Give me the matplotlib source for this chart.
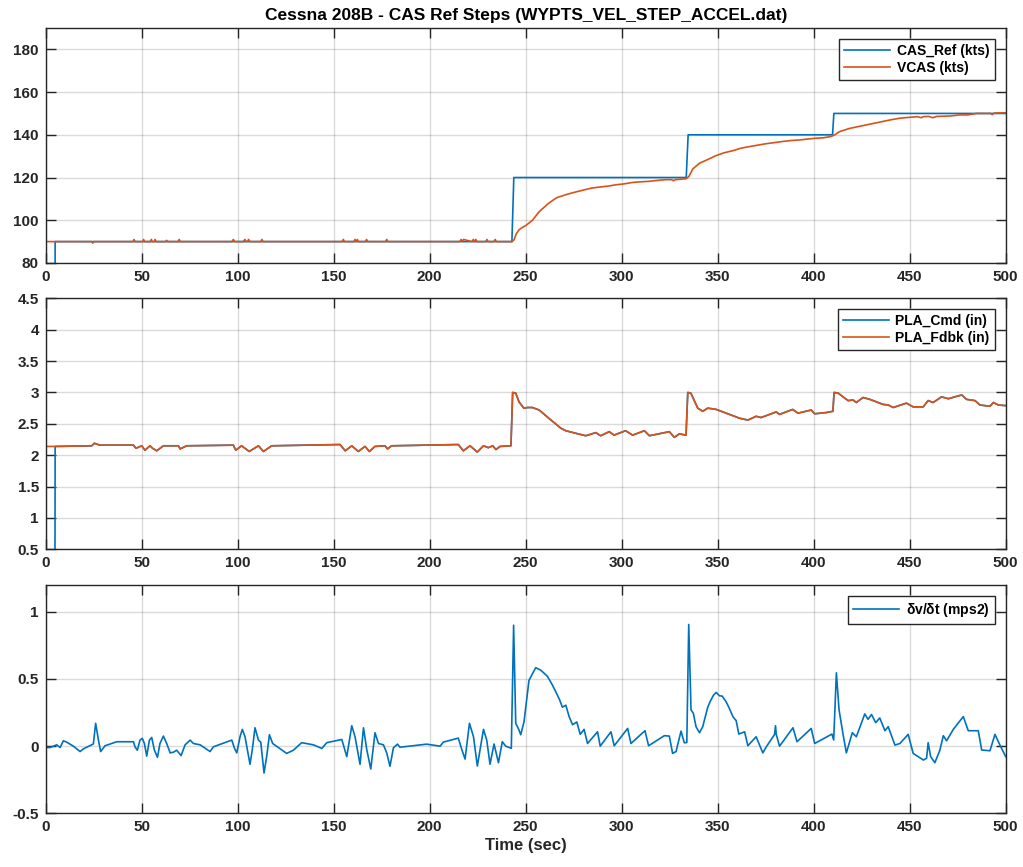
import matplotlib
matplotlib.use("Agg")
import matplotlib.pyplot as plt

# --- CAS panel ---
cas_ref_t = [0, 4.8, 4.9, 242.8, 243.8, 333.6, 334.6, 409.8, 410.5, 500]
cas_ref_v = [0, 0, 90, 90, 120, 120, 140, 140, 150, 150]

vcas_t = [0, 24, 24.5, 25, 45.5, 46, 46.5, 50.5, 51, 51.5, 54.5, 55, 55.5,
          56.5, 57, 57.5, 62.5, 63, 63.5, 69, 69.5, 70, 97, 97.7, 98.4,
          103, 103.7, 104.4, 105, 105.7, 106.3, 112, 112.6, 113.2, 154.4,
          155, 155.6, 160.5, 161.1, 161.7, 162.3, 162.9, 166.5, 167.1, 167.7,
          177, 177.6, 178.2, 215.7, 216.3, 217, 217.6, 222.1, 222.7, 223.3,
          224, 224.6, 229.2, 229.8, 230.4, 233.5, 234.1, 234.7, 243,
          244, 245, 246.5, 248, 250, 253.5, 257, 262, 266, 271, 275, 279.6,
          284, 288, 293, 297, 301, 305.7, 310, 314, 318, 323, 326, 327, 328,
          333.5, 335, 337, 340.5, 345, 349, 353, 358, 362, 366.6, 371, 375,
          380, 384, 388, 392.7, 397, 401, 405, 409, 411, 413.5, 418.7, 423,
          427.5, 432, 436, 440, 445, 450, 454, 456, 457, 460, 462, 464, 471,
          476, 480, 485, 492, 493, 494, 500]
vcas_v = [90, 90, 89.3, 90, 90, 91, 90, 90, 91, 90, 90, 91, 90,
          90, 91, 90, 90, 90.6, 90, 90, 91, 90, 90, 91, 90,
          90, 91, 90, 90, 91, 90, 90, 91, 90, 90,
          91, 90, 90, 91, 90, 91, 90, 90, 91, 90,
          90, 91, 90, 90, 91, 90, 91, 90, 91, 90,
          91, 90, 90, 91, 90, 90, 91, 90, 90,
          91, 93.5, 95.5, 96.5, 97.5, 100, 104, 108, 110.5, 112, 113, 114,
          115, 115.5, 116, 116.6, 117, 117.7, 118, 118.2, 118.6, 119, 119, 118.5, 119,
          119.4, 120.5, 124, 126.7, 128.5, 130.2, 131.5, 132.6, 133.7, 134.5, 135.2, 135.8,
          136.4, 136.9, 137.3, 137.6, 138, 138.4, 138.6, 139.2, 140, 141.5, 143, 143.8,
          144.6, 145.5, 146.2, 147, 147.8, 148.2, 148.5, 148, 148.5, 148.6, 148, 148.6, 148.8,
          149.3, 149.3, 150, 150, 149.5, 150.2, 150.3]

# --- PLA panel ---
pla_fdbk_t = [0, 4.9, 24, 25.3, 28.3, 45.7, 47, 50, 51.7, 54.3, 55.7, 57.8, 61.3,
              69.1, 70, 73.4, 97.7, 99, 102, 106, 110.8, 113.4, 117.7, 153.3,
              156, 159.4, 162.8, 166.3, 168.6, 171.5, 176.7, 178, 180.2, 214.9,
              217.5, 221, 224.8, 228, 230.5, 232.8, 234.5, 236.6, 242.3, 243.2,
              244.8, 246.5, 249, 251, 253.5, 257, 262, 268.3, 270.9, 276, 281.3,
              286.5, 289, 293.5, 296, 302, 305.7, 311.8, 314.4, 324.8, 327.4, 330,
              333.5, 334.4, 336, 339.6, 342.2, 344.8, 349.2, 354.4, 357.9, 361.3,
              365.7, 370, 372.6, 380.5, 382.2, 389, 391.8, 398.7, 400.5, 406.6,
              410, 410.6, 412.7, 415.3, 417.9, 420.5, 422.2, 425.7, 429.2, 432.7,
              436, 438.8, 441.4, 448.3, 451.8, 457, 459.6, 462.2, 466.6, 470.1,
              477.1, 479.6, 484, 486.6, 491.8, 493.6, 496.2, 500]
pla_fdbk_v = [2.14, 2.14, 2.15, 2.19, 2.16, 2.16, 2.11, 2.15, 2.08, 2.15, 2.11, 2.07, 2.15,
              2.15, 2.10, 2.15, 2.16, 2.08, 2.15, 2.06, 2.15, 2.06, 2.15, 2.17,
              2.07, 2.15, 2.06, 2.14, 2.06, 2.14, 2.15, 2.10, 2.15, 2.17,
              2.07, 2.15, 2.05, 2.15, 2.12, 2.15, 2.09, 2.14, 2.15, 3.0,
              2.99, 2.85, 2.75, 2.76, 2.76, 2.72, 2.59, 2.43, 2.39, 2.35, 2.31,
              2.36, 2.31, 2.375, 2.32, 2.39, 2.32, 2.39, 2.31, 2.375, 2.285, 2.34,
              2.32, 3.0, 2.99, 2.75, 2.70, 2.75, 2.73, 2.67, 2.63, 2.59,
              2.56, 2.62, 2.60, 2.69, 2.65, 2.73, 2.67, 2.72, 2.66, 2.68,
              2.70, 3.0, 2.99, 2.93, 2.87, 2.88, 2.84, 2.92, 2.89, 2.85,
              2.81, 2.80, 2.76, 2.83, 2.77, 2.77, 2.87, 2.84, 2.93, 2.90,
              2.96, 2.89, 2.87, 2.80, 2.78, 2.84, 2.80, 2.79]
pla_cmd_t = [0.0, 4.8] + pla_fdbk_t[1:]
pla_cmd_v = [0.0, 0.0] + pla_fdbk_v[1:]

# --- accel panel ---
acc_t = [0, 2.3, 5.7, 7.5, 9.2, 10.9, 14.4, 17.9, 19.6, 24.8, 26, 27.4, 28.6, 30.9,
         37, 45.7, 46.5, 47.7, 49.1, 50.3, 51.4, 52.6, 54, 55.2, 56.6, 58.2, 59.5,
         61.3, 63, 64.8, 66.5, 68.2, 70.5, 72.6, 75.2, 76.9, 80.4, 85.6, 87.3,
         96.9, 98.3, 99.5, 101.2, 102.4, 103.8, 106.4, 107.6, 109, 110.8, 112,
         113.7, 115.1, 116.5, 118.2, 125.5, 129, 133.3, 139.4, 143.8, 146.4,
         154.2, 156.8, 159.4, 161.1, 163.7, 165.5, 167.2, 169.3, 171.5, 173.3,
         175.9, 177.6, 179.3, 181.1, 183.2, 184.5, 198.4, 205.4, 207.1, 214.9,
         216.7, 218.4, 220.7, 222.8, 224.8, 228, 229.7, 231.4, 233.5, 235.8,
         237.8, 239.6, 242.5, 243.7, 244.8, 246.5, 247.4, 249.1, 251.7, 255.2,
         257.8, 261.3, 263.9, 266.5, 267.7, 269.1, 270.9, 272.6, 274.4, 276.6,
         278.4, 280.4, 282.2, 287.4, 288.8, 294.4, 296.1, 303.1, 304.8, 312.1,
         314, 322.2, 324.8, 326.5, 328.3, 330.9, 332.6, 333.9, 334.9, 336.1,
         337.3, 338.7, 340.5, 342.2, 344.8, 346, 347.8, 349.2, 350.9, 352.3,
         354.4, 356.1, 357.9, 359.6, 361, 364, 365.7, 370, 373.5, 375.3, 379.6,
         380.1, 380.5, 382.2, 389.2, 391.3, 398.7, 400.5, 409.5, 410.4, 411.8,
         413.2, 415.3, 417, 420.1, 422.2, 426.6, 428.3, 430.1, 432.3, 434.4,
         437.1, 438.8, 442.3, 444.9, 449.2, 451.8, 457.1, 458.8, 459.6, 460.9,
         463.1, 465.7, 467.5, 469.2, 472.7, 477.9, 480.5, 485.7, 487.5, 491.8,
         494.4, 497, 500]
acc_v = [-0.01, -0.01, 0.01, -0.01, 0.04, 0.03, 0.0, -0.04, -0.02, 0.016, 0.17, 0.05, -0.04, 0.003,
         0.033, 0.033, -0.005, -0.03, 0.045, 0.058, 0.02, -0.074, 0.045, 0.065, -0.03, -0.083, 0.02,
         0.075, 0.02, -0.05, -0.045, -0.03, -0.07, 0.01, 0.045, 0.02, 0.01, -0.04, -0.005,
         0.045, -0.015, -0.05, 0.07, 0.125, 0.07, -0.135, -0.025, 0.137, 0.045, 0.03,
         -0.2, -0.075, 0.085, 0.02, -0.054, -0.03, 0.026, 0.01, -0.017, 0.026,
         0.05, -0.078, 0.152, 0.07, -0.135, 0.137, -0.025, -0.17, 0.1, 0.02,
         0.01, -0.05, -0.15, -0.012, 0.015, -0.008, 0.015, 0.0, 0.03, 0.06,
         -0.025, -0.096, 0.17, 0.07, -0.148, 0.125, 0.045, -0.135, 0.016, -0.123,
         0.033, 0.0, -0.016, 0.9, 0.17, 0.12, 0.085, 0.18, 0.49, 0.584,
         0.566, 0.52, 0.455, 0.38, 0.343, 0.29, 0.305, 0.22, 0.16, 0.18,
         0.088, 0.125, 0.02, 0.107, 0.0, 0.107, 0.003, 0.132, 0.02, 0.115,
         0.003, 0.078, 0.075, -0.054, -0.04, 0.112, 0.025, 0.027, 0.906, 0.27,
         0.245, 0.145, 0.1, 0.145, 0.29, 0.33, 0.38, 0.4, 0.375, 0.373,
         0.33, 0.28, 0.22, 0.19, 0.09, 0.107, 0.003, 0.07, -0.05, -0.005, 0.087,
         0.152, 0.087, 0.0, 0.137, 0.033, 0.132, 0.02, 0.09, 0.046, 0.546,
         0.27, 0.087, -0.05, 0.1, 0.07, 0.24, 0.2, 0.236, 0.175, 0.21,
         0.115, 0.145, 0.008, 0.02, 0.088, -0.054, -0.103, -0.09, 0.026, -0.078,
         -0.123, -0.03, 0.078, 0.04, 0.125, 0.22, 0.115, 0.115, -0.029, -0.034,
         0.088, 0.008, -0.078]

blue = "#0072BD"
orange = "#D95319"
dark = "#262626"

plt.rcParams["font.family"] = ["Liberation Sans", "DejaVu Sans"]
plt.rcParams["font.weight"] = "bold"
plt.rcParams["font.size"] = 11
plt.rcParams["mathtext.default"] = "regular"

fig = plt.figure(figsize=(10.23, 8.67), dpi=100)
ax1 = fig.add_axes([0.0447, 0.6967, 0.9384, 0.2710])
ax2 = fig.add_axes([0.0447, 0.3664, 0.9384, 0.2895])
ax3 = fig.add_axes([0.0447, 0.0619, 0.9384, 0.2634])


def style(ax):
    ax.set_xlim(0, 500)
    ax.set_xticks(range(0, 501, 50))
    ax.grid(True, color="#262626", alpha=0.17, linewidth=1.0)
    ax.tick_params(direction="in", length=7, width=1.0, top=True, right=True,
                   colors=dark, labelsize=11, pad=5)
    for lab in ax.get_xticklabels() + ax.get_yticklabels():
        lab.set_fontweight("bold")
    for s in ax.spines.values():
        s.set_color(dark)
        s.set_linewidth(1.0)


def legend(ax):
    leg = ax.legend(loc="upper right", fancybox=False, edgecolor="#262626",
                    framealpha=1, handlelength=3.3, borderaxespad=0.8,
                    borderpad=0.35, labelspacing=0.2, handletextpad=0.5,
                    prop={"weight": "bold", "size": 10})
    leg.get_frame().set_linewidth(1.0)


ax1.plot(cas_ref_t, cas_ref_v, color=blue, lw=1.2, label="CAS_Ref (kts)")
ax1.plot(vcas_t, vcas_v, color=orange, lw=1.2, label="VCAS (kts)")
ax1.set_ylim(80, 190)
ax1.set_yticks(range(80, 181, 20))
style(ax1)
legend(ax1)
ax1.set_title("Cessna 208B - CAS Ref Steps (WYPTS_VEL_STEP_ACCEL.dat)",
              fontweight="bold", fontsize=12.5, color="black", pad=6)

ax2.plot(pla_cmd_t, pla_cmd_v, color=blue, lw=1.2, label="PLA_Cmd (in)")
ax2.plot(pla_fdbk_t, pla_fdbk_v, color=orange, lw=1.2, label="PLA_Fdbk (in)")
ax2.set_ylim(0.5, 4.5)
ax2.set_yticks([0.5, 1, 1.5, 2, 2.5, 3, 3.5, 4, 4.5])
ax2.set_yticklabels(["0.5", "1", "1.5", "2", "2.5", "3", "3.5", "4", "4.5"])
style(ax2)
legend(ax2)

ax3.plot(acc_t, acc_v, color=blue, lw=1.2, label=r"$\delta$v/$\delta$t (mps2)")
ax3.set_ylim(-0.5, 1.2)
ax3.set_yticks([-0.5, 0, 0.5, 1])
ax3.set_yticklabels(["-0.5", "0", "0.5", "1"])
style(ax3)
legend(ax3)
ax3.set_xlabel("Time (sec)", fontweight="bold", fontsize=12, color=dark, labelpad=3)

fig.savefig("out.png", dpi=100)
